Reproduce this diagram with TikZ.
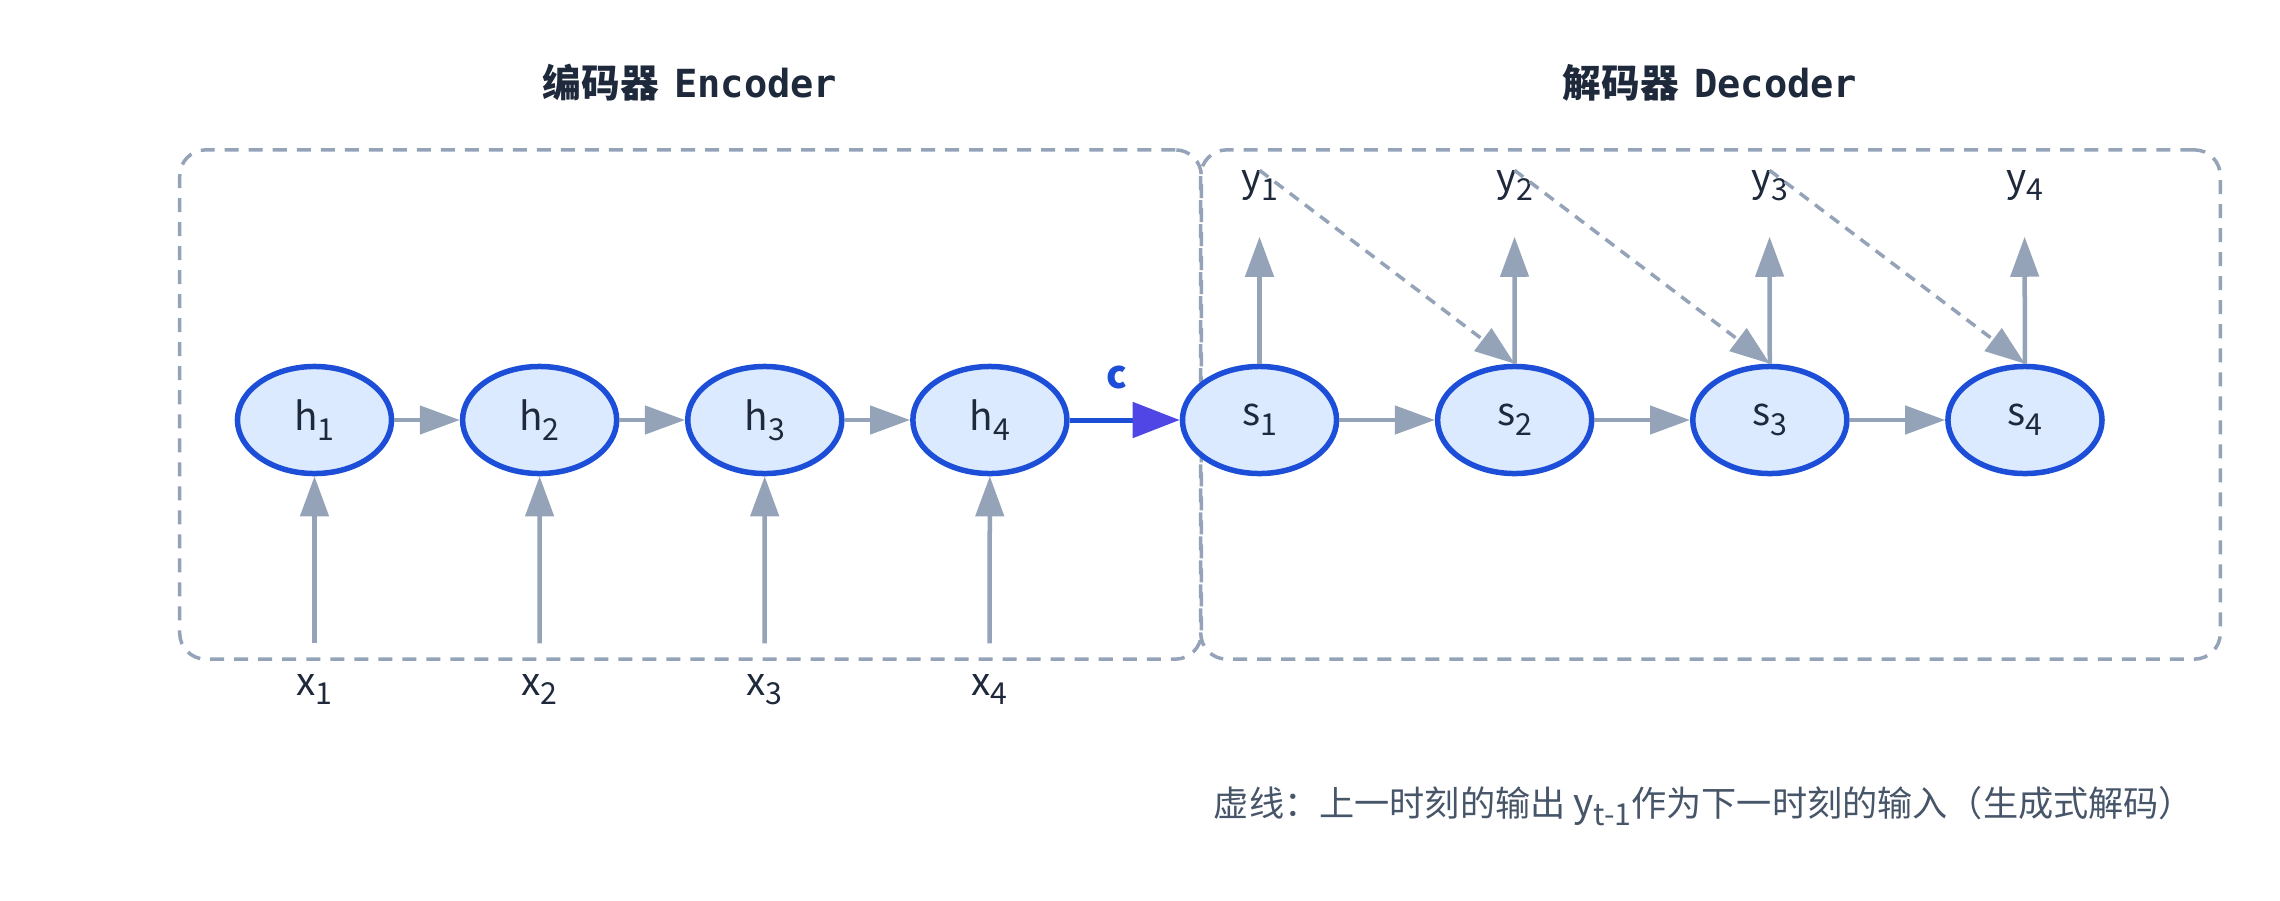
\documentclass[tikz,border=0pt]{standalone}
\usepackage{fontspec}
\setmainfont{Noto Sans CJK SC}
\setmonofont{DejaVu Sans Mono}
\usetikzlibrary{shapes.geometric, arrows.meta, positioning}

\definecolor{cellline}{HTML}{1D4ED8}
\definecolor{cellfill}{HTML}{DBEAFE}
\definecolor{wire}{HTML}{94A3B8}
\definecolor{ink}{HTML}{1E293B}
\definecolor{notegray}{HTML}{475569}
\definecolor{ctxtip}{HTML}{4F46E5}

% subscript used in the cell and label texts
\newcommand{\idx}[1]{\raisebox{-0.25em}{\fontsize{8.6}{9}\selectfont #1}}

\begin{document}
\begin{tikzpicture}[x=0.01cm, y=-0.01cm,
    cell/.style={draw=cellline, line width=0.055cm, fill=cellfill, ellipse, minimum width=1.54cm, minimum height=1.07cm, inner sep=0pt, text=ink, font=\fontsize{11}{13}\selectfont},
    lbl/.style={anchor=base, inner sep=0pt, text height=0.2cm, text depth=0.1cm, text=ink, font=\fontsize{11}{13}\selectfont},
    flow/.style={draw=wire, line width=0.045cm, -{Triangle[length=0.4cm, width=0.28cm]}},
    feed/.style={draw=wire, line width=0.035cm, dash pattern=on 0.11cm off 0.08cm, -{Triangle[length=0.4cm, width=0.28cm]}},
    ctx/.style={draw=cellline, line width=0.05cm, -{Triangle[length=0.47cm, width=0.35cm, color=ctxtip]}},
    group/.style={draw=wire, line width=0.035cm, dash pattern=on 0.14cm off 0.1cm, rounded corners=0.26cm, minimum height=5.09cm, inner sep=0pt},
    title/.style={text=ink, font=\fontsize{11}{13}\selectfont\bfseries}]
    \useasboundingbox (0,0) rectangle (2280,900);

    % Groups
    \node (encbox) [group, minimum width=10.21cm] at (690.5,404.5) {};
    \node (decbox) [group, minimum width=10.19cm] at (1710.5,404.5) {};
    \node (enctitle) [title] at (690,83) {编码器\, {\ttfamily\bfseries Encoder}};
    \node (dectitle) [title] at (1710,83) {解码器\, {\ttfamily\bfseries Decoder}};

    % Encoder cells
    \node (h1) [cell] at (314.5,420) {h\idx{1}};
    \node (h2) [cell, right of=h1, node distance=2.25cm] {h\idx{2}};
    \node (h3) [cell, right of=h2, node distance=2.25cm] {h\idx{3}};
    \node (h4) [cell, right of=h3, node distance=2.25cm] {h\idx{4}};

    % Decoder cells
    \node (s1) [cell] at (1259.5,420) {s\idx{1}};
    \node (s2) [cell, right of=s1, node distance=2.55cm] {s\idx{2}};
    \node (s3) [cell, right of=s2, node distance=2.55cm] {s\idx{3}};
    \node (s4) [cell, right of=s3, node distance=2.55cm] {s\idx{4}};

    % Inputs and outputs
    \node (x1) [lbl] at (314.5,695) {x\idx{1}};
    \node (x2) [lbl] at (539.5,695) {x\idx{2}};
    \node (x3) [lbl] at (764.5,695) {x\idx{3}};
    \node (x4) [lbl] at (989.5,695) {x\idx{4}};
    \node (y1) [lbl] at (1259.5,191) {y\idx{1}};
    \node (y2) [lbl] at (1514.5,191) {y\idx{2}};
    \node (y3) [lbl] at (1769.5,191) {y\idx{3}};
    \node (y4) [lbl] at (2024.5,191) {y\idx{4}};

    % Arrows
    \draw[flow, shorten <=0.31cm] (x1) -- (h1);
    \draw[flow, shorten <=0.31cm] (x2) -- (h2);
    \draw[flow, shorten <=0.31cm] (x3) -- (h3);
    \draw[flow, shorten <=0.31cm] (x4) -- (h4);
    \draw[flow] (h1) -- (h2);
    \draw[flow] (h2) -- (h3);
    \draw[flow] (h3) -- (h4);
    \draw[ctx] (h4) -- node[pos=0.43, above=0.28cm, inner sep=0pt, text=cellline, font=\fontsize{11}{13}\selectfont\bfseries] {c} (s1);
    \draw[flow] (s1) -- (s2);
    \draw[flow] (s2) -- (s3);
    \draw[flow] (s3) -- (s4);
    \draw[flow, shorten >=0.35cm] (s1) -- (y1);
    \draw[flow, shorten >=0.35cm] (s2) -- (y2);
    \draw[flow, shorten >=0.35cm] (s3) -- (y3);
    \draw[flow, shorten >=0.35cm] (s4) -- (y4);

    % Feedback of the previous output
    \draw[feed] (y1.north) -- (s2.north);
    \draw[feed] (y2.north) -- (s3.north);
    \draw[feed] (y3.north) -- (s4.north);

    \node (note) [text=notegray, font=\fontsize{10}{12}\selectfont] at (1704,806) {虚线：上一时刻的输出 {\fontsize{11}{12}\selectfont y}\idx{t-1}作为下一时刻的输入（生成式解码）};
\end{tikzpicture}
\end{document}
